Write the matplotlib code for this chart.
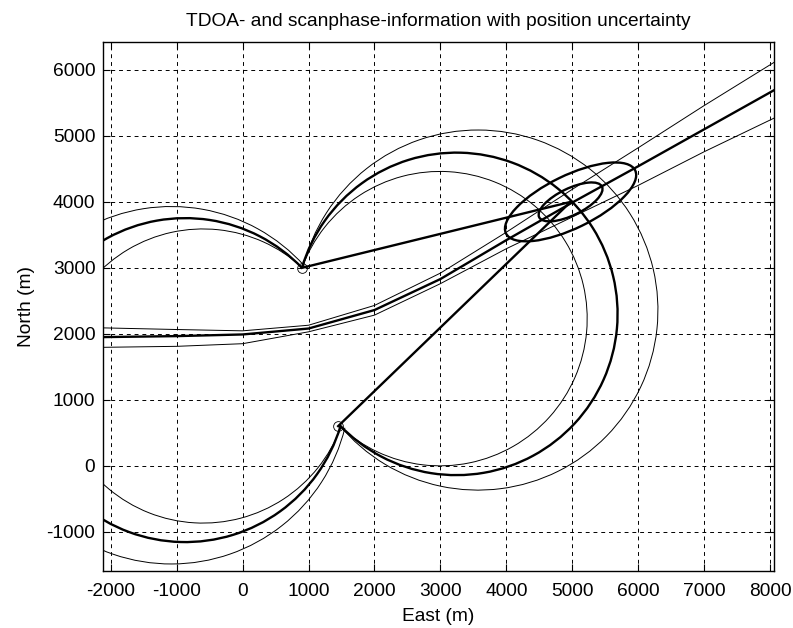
import numpy as np
import matplotlib
matplotlib.use('Agg')
import matplotlib.pyplot as plt
from matplotlib.patches import Arc, Ellipse

# receiving sensors (A, B) and estimated emitter position
sensor_east = [900, 1450]
sensor_north = [3000, 600]
target_east = 4975
target_north = 4000

# scanphase circles through both sensors: centre east/north, radius
# the first three lie west of the baseline, the last three east of it
circ_east = [-870, -1080, -600, 3243, 3570, 2995]
circ_north = [1298, 1220, 1360, 2302, 2360, 2230]
circ_radius = [2456, 2710, 2230, 2445, 2730, 2232]
circ_side = ['west', 'west', 'west', 'east', 'east', 'east']
circ_thick = [True, False, False, True, False, False]

# TDOA hyperbola and its uncertainty bounds
tdoa_east = [-2121, -1000, 0, 1000, 2000, 3000, 4000, 5000, 6000, 7000, 8065]
tdoa_north = [1950, 1965, 1990, 2080, 2360, 2830, 3420, 3990, 4540, 5100, 5696]
tdoa_hi_north = [2090, 2065, 2045, 2130, 2430, 2920, 3540, 4190, 4820, 5460, 6118]
tdoa_lo_north = [1795, 1810, 1850, 2030, 2283, 2760, 3290, 3770, 4250, 4760, 5272]

# uncertainty ellipses around the emitter
ell_width = [2180, 1060]
ell_height = [800, 405]
ell_angle = 26

plt.rcParams['font.family'] = ['Liberation Sans', 'DejaVu Sans']
plt.rcParams['axes.unicode_minus'] = False

fig = plt.figure(figsize=(7.93, 6.28), dpi=100)
ax = fig.add_axes([103/793, 1 - 570.7/628, (774.3 - 103)/793, (570.7 - 42.3)/628])

thick = 1.7
thin = 0.7

# scanphase arcs, each running between the two sensors on its own side
for cx, cy, r, side, bold in zip(circ_east, circ_north, circ_radius, circ_side, circ_thick):
    ang_a = np.degrees(np.arctan2(sensor_north[0] - cy, sensor_east[0] - cx))
    ang_b = np.degrees(np.arctan2(sensor_north[1] - cy, sensor_east[1] - cx))
    if side == 'west':
        t1, t2 = ang_a, ang_b
    else:
        t1, t2 = ang_b, ang_a
    ax.add_patch(Arc((cx, cy), 2*r, 2*r, theta1=t1, theta2=t2,
                     color='black', lw=thick if bold else thin))

# TDOA curves
ax.plot(tdoa_east, tdoa_north, color='black', lw=thick)
ax.plot(tdoa_east, tdoa_hi_north, color='black', lw=thin)
ax.plot(tdoa_east, tdoa_lo_north, color='black', lw=thin)

# bearing lines from the sensors to the emitter
for se, sn in zip(sensor_east, sensor_north):
    ax.plot([se, target_east], [sn, target_north], color='black', lw=thick)

for w, h in zip(ell_width, ell_height):
    ax.add_patch(Ellipse((target_east, target_north), w, h, angle=ell_angle,
                         fill=False, edgecolor='black', lw=thick))

ax.plot(sensor_east, sensor_north, 'o', mfc='none', mec='black', ms=7, mew=0.6)

ax.set_xlim(-2117, 8065)
ax.set_ylim(-1592, 6420)
ax.set_xticks(np.arange(-2000, 8001, 1000))
ax.set_yticks(np.arange(-1000, 6001, 1000))
ax.set_axisbelow(True)
ax.grid(True, color='black', linestyle=(0, (4, 4)), linewidth=0.7)
ax.tick_params(direction='in', top=True, right=True, length=5, width=0.8,
               labelsize=13.8, colors='black')
ax.tick_params(axis='x', pad=8.5)
ax.tick_params(axis='y', pad=5.5)
for s in ax.spines.values():
    s.set_linewidth(1.0)

ax.set_title('TDOA- and scanphase-information with position uncertainty',
             fontsize=13.8, pad=12)
ax.set_xlabel('East (m)', fontsize=13.8, labelpad=6)
ax.set_ylabel('North (m)', fontsize=13.8, labelpad=8)

fig.savefig('out.png', dpi=100)
